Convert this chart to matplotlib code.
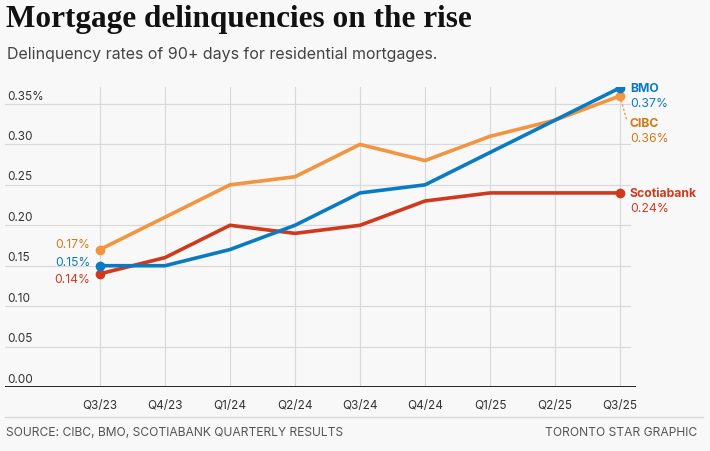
import matplotlib.pyplot as plt
import matplotlib.transforms as mtransforms

# ── Data ───────────────────────────────────────────────────────────────────────
quarters = ["Q3/23", "Q4/23", "Q1/24", "Q2/24", "Q3/24", "Q4/24", "Q1/25", "Q2/25", "Q3/25"]
bmo    = [0.15, 0.15, 0.17, 0.20, 0.24, 0.25, 0.29, 0.33, 0.37]
cibc   = [0.17, 0.21, 0.25, 0.26, 0.30, 0.28, 0.31, 0.33, 0.36]
scotia = [0.14, 0.16, 0.20, 0.19, 0.20, 0.23, 0.24, 0.24, 0.24]
yticks = [0.00, 0.05, 0.10, 0.15, 0.20, 0.25, 0.30, 0.35]

# ── Palette ────────────────────────────────────────────────────────────────────
C_BG    = "#f8f8f8"
C_GRID  = "#d9d9d9"
C_BMO   = "#0a7bc2"
C_CIBC  = "#f29440"
C_CIBC_T = "#d07a1c"
C_SCO   = "#d0391b"
C_TEXT  = "#333333"

W, H = 710, 452
fig = plt.figure(figsize=(W / 100, H / 100), dpi=100)
fig.patch.set_facecolor(C_BG)

# axes placed in pixel coords: left 5, right 636, bottom y=388, top y=88
ax = fig.add_axes([5 / W, (H - 388) / H, (636 - 5) / W, (388 - 88) / H])
ax.set_facecolor(C_BG)
x = list(range(len(quarters)))
px_per_q = 65
ax.set_xlim(-(100 - 5) / px_per_q, 8 + (636 - 620) / px_per_q)
ax.set_ylim(0, 0.371)
for s in ax.spines.values():
    s.set_visible(False)
ax.set_xticks([])
ax.set_yticks([])

for xi in x:
    ax.axvline(xi, color=C_GRID, lw=0.9, zorder=0)
for yv in yticks[1:]:
    ax.plot([ax.get_xlim()[0], 8.15], [yv, yv], color=C_GRID, lw=0.9, zorder=0)
ax.axhline(0, color="#111111", lw=1.3, zorder=1)

blend = mtransforms.blended_transform_factory(ax.transAxes, ax.transData)
for yv in yticks:
    lab = f"{yv:.2f}%" if yv == yticks[-1] else f"{yv:.2f}"
    ax.text(0.003, yv + 0.003, lab, transform=blend, ha="left", va="bottom",
            fontsize=8.5, color=C_TEXT, family="Inter")

blend_x = mtransforms.blended_transform_factory(ax.transData, ax.transAxes)
for xi, q in zip(x, quarters):
    ax.text(xi, -0.04, q, transform=blend_x, ha="center", va="top",
            fontsize=8.5, color=C_TEXT, family="Inter")

# lines
ax.plot(x, cibc, color=C_CIBC, lw=2.6, zorder=3, solid_capstyle="round")
ax.plot(x, scotia, color=C_SCO, lw=2.6, zorder=3, solid_capstyle="round")
ax.plot(x, bmo, color=C_BMO, lw=2.6, zorder=4, solid_capstyle="round")
for ser, c in [(cibc, C_CIBC), (scotia, C_SCO), (bmo, C_BMO)]:
    ax.plot([x[0], x[-1]], [ser[0], ser[-1]], "o", color=c, ms=6, zorder=5)

# left start labels
ax.text(x[0] - 0.15, cibc[0] + 0.007, f"{cibc[0]:.2f}%", ha="right", va="center",
        fontsize=8.7, color=C_CIBC_T, family="Inter")
ax.text(x[0] - 0.15, bmo[0] + 0.005, f"{bmo[0]:.2f}%", ha="right", va="center",
        fontsize=8.7, color=C_BMO, family="Inter")
ax.text(x[0] - 0.15, scotia[0] - 0.007, f"{scotia[0]:.2f}%", ha="right", va="center",
        fontsize=8.7, color=C_SCO, family="Inter")

# right end labels
xe = x[-1] + 0.15
ax.text(xe, bmo[-1], "BMO", ha="left", va="center", fontsize=8.8,
        fontweight="bold", color=C_BMO, family="Inter")
ax.text(xe, bmo[-1] - 0.019, f"{bmo[-1]:.2f}%", ha="left", va="center",
        fontsize=8.8, color=C_BMO, family="Inter")
ax.text(xe, 0.327, "CIBC", ha="left", va="center", fontsize=8.8,
        fontweight="bold", color=C_CIBC_T, family="Inter")
ax.text(xe, 0.308, f"{cibc[-1]:.2f}%", ha="left", va="center",
        fontsize=8.8, color=C_CIBC_T, family="Inter")
ax.plot([x[-1], x[-1] + 0.1], [cibc[-1], 0.331], ls=(0, (2, 1.5)), lw=0.9,
        color=C_CIBC, zorder=2)
ax.text(xe, scotia[-1], "Scotiabank", ha="left", va="center", fontsize=8.8,
        fontweight="bold", color=C_SCO, family="Inter")
ax.text(xe, scotia[-1] - 0.019, f"{scotia[-1]:.2f}%", ha="left", va="center",
        fontsize=8.8, color=C_SCO, family="Inter")

# ── Titles / footer ────────────────────────────────────────────────────────────
fig.text(6 / W, 1 - 20 / H, "Mortgage delinquencies on the rise", ha="left",
         va="center", fontsize=22.5, fontweight="bold", family="Liberation Serif",
         color="#111111")
fig.text(7 / W, 1 - 55 / H, "Delinquency rates of 90+ days for residential mortgages.",
         ha="left", va="center", fontsize=11.5, color="#444444", family="Inter")

fig.add_artist(plt.Line2D([5 / W, 703 / W], [1 - 418 / H, 1 - 418 / H],
                          color=C_GRID, lw=1))
fig.text(6 / W, 1 - 433 / H, "SOURCE: CIBC, BMO, SCOTIABANK QUARTERLY RESULTS",
         ha="left", va="center", fontsize=8.7, color="#555555", family="Inter")
fig.text(697 / W, 1 - 433 / H, "TORONTO STAR GRAPHIC",
         ha="right", va="center", fontsize=8.7, color="#555555", family="Inter")

fig.savefig("out.png", dpi=100, facecolor=C_BG)
